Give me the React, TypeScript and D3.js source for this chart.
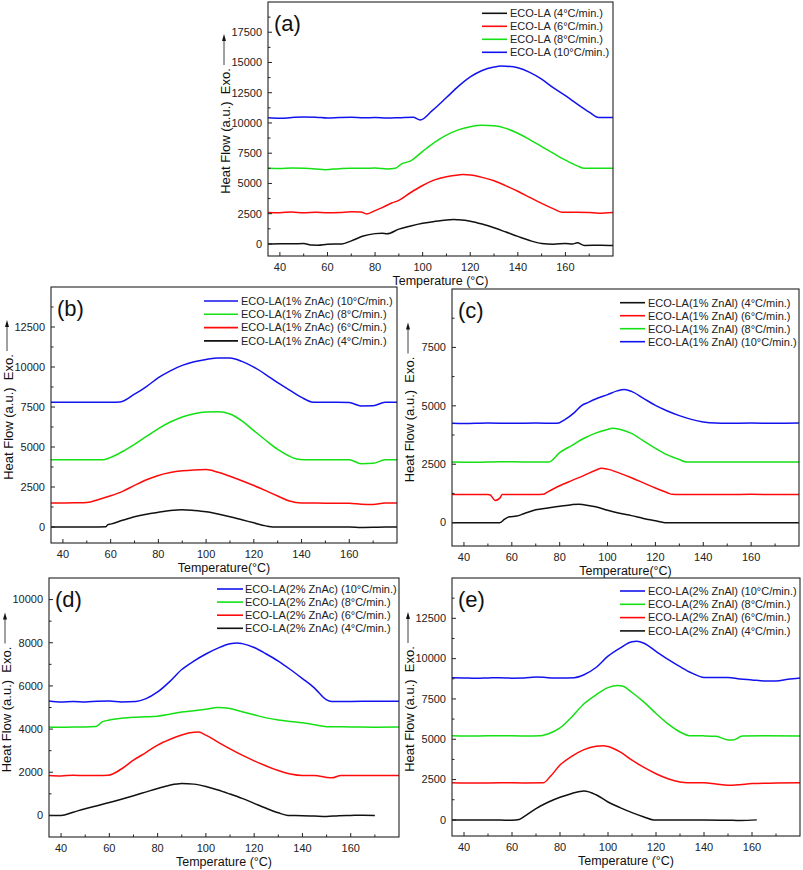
import React from "react";
import * as d3 from "d3";

type P = [number, number];

// ---------- Panel (a): ECO-LA ----------
const A4: P[] = [[35,0],[40,20],[45,10],[50,30],[53,-100],[56,-110],[60,-30],[66,0],[70,250],[75,650],[80,850],[83,880],[85,830],[90,1220],[95,1480],[100,1700],[105,1860],[110,1980],[113,2010],[115,1990],[120,1880],[125,1640],[130,1330],[135,980],[140,620],[145,280],[150,40],[155,-20],[160,40],[163,0],[165,90],[168,-130],[175,-110],[180,-140]];
const A6: P[] = [[35,2600],[40,2580],[45,2640],[50,2570],[55,2610],[60,2580],[65,2600],[70,2650],[74,2640],[76.5,2480],[80,2750],[83,3000],[87,3380],[90,3600],[95,4250],[100,4830],[105,5290],[110,5560],[115,5700],[117,5730],[120,5690],[125,5500],[130,5220],[135,4800],[140,4350],[145,3850],[150,3350],[155,2900],[158.5,2620],[165,2620],[170,2590],[174,2540],[180,2600]];
const A8: P[] = [[35,6250],[40,6230],[45,6270],[50,6250],[55,6200],[59,6140],[65,6220],[70,6260],[75,6250],[80,6270],[85,6200],[88.5,6250],[91,6600],[95,6870],[100,7650],[105,8400],[110,9000],[115,9430],[120,9680],[125,9800],[130,9760],[135,9550],[140,9150],[145,8620],[150,8050],[155,7480],[160,6930],[165,6450],[168,6250],[175,6260],[180,6250]];
const A10: P[] = [[35,10420],[40,10380],[45,10450],[50,10500],[55,10480],[60,10400],[65,10450],[70,10480],[75,10430],[80,10450],[85,10400],[90,10430],[96,10480],[99,10250],[104,11020],[110,12100],[115,13020],[120,13800],[125,14340],[130,14620],[133,14700],[135,14690],[140,14560],[145,14180],[150,13620],[155,12900],[160,12250],[165,11560],[170,10900],[174,10450],[180,10450]];

// ---------- Panel (b): 1% ZnAc ----------
const B4: P[] = [[35,0],[45,0],[55,0],[58,10],[58.8,150],[60,180],[65,420],[70,640],[75,800],[80,920],[85,1030],[90,1080],[95,1030],[100,950],[105,810],[110,640],[115,450],[120,260],[125,70],[128,0],[140,0],[150,0],[160,0],[165,-30],[170,-20],[175,0],[180,0]];
const B6: P[] = [[35,1500],[40,1500],[45,1510],[50,1530],[55,1720],[60,1950],[65,2230],[70,2600],[75,2950],[80,3220],[85,3400],[90,3510],[95,3570],[100,3590],[105,3420],[110,3170],[115,2890],[120,2590],[125,2270],[130,1940],[135,1620],[140,1500],[150,1490],[160,1480],[165,1420],[170,1400],[175,1500],[180,1500]];
const B8: P[] = [[35,4200],[45,4200],[55,4200],[57,4210],[60,4350],[65,4720],[70,5170],[75,5660],[80,6150],[85,6560],[90,6880],[95,7080],[100,7180],[105,7200],[110,7060],[115,6630],[120,6020],[125,5420],[130,4850],[135,4420],[138,4250],[141,4200],[150,4200],[160,4200],[165,3960],[170,3980],[175,4200],[180,4200]];
const B10: P[] = [[35,7800],[45,7800],[55,7800],[60,7800],[64,7820],[70,8300],[75,8780],[80,9330],[85,9760],[90,10100],[95,10330],[100,10470],[105,10560],[110,10560],[115,10350],[120,9990],[125,9530],[130,9020],[135,8560],[140,8100],[145,7800],[155,7800],[160,7780],[165,7570],[170,7580],[175,7800],[180,7800]];

// ---------- Panel (c): 1% ZnAl ----------
const C4: P[] = [[35,0],[45,0],[50,-10],[55,0],[57,150],[59,250],[62,280],[65,380],[70,550],[75,630],[80,700],[85,770],[88,790],[90,770],[95,680],[100,530],[105,400],[110,300],[115,180],[120,80],[124,0],[130,0],[140,0],[150,-10],[160,0],[170,0],[180,0]];
const C6: P[] = [[35,1200],[45,1200],[50,1200],[51,1180],[53,950],[55,1050],[56,1200],[60,1200],[70,1200],[73,1210],[75,1320],[80,1580],[85,1800],[90,2010],[95,2240],[97.5,2330],[100,2290],[105,2120],[110,1920],[115,1700],[120,1480],[125,1280],[127,1210],[130,1200],[140,1200],[150,1200],[160,1210],[170,1200],[180,1200]];
const C8: P[] = [[35,2600],[45,2590],[55,2610],[65,2600],[75.5,2600],[80,3000],[85,3300],[90,3600],[95,3830],[100,3990],[102,4040],[105,4000],[110,3820],[115,3500],[120,3180],[125,2900],[130,2700],[133,2600],[140,2600],[160,2600],[180,2600]];
const C10: P[] = [[35,4250],[40,4240],[50,4260],[60,4250],[70,4260],[79,4250],[82,4400],[86,4700],[89,5000],[92,5150],[95,5290],[100,5480],[104,5640],[107,5700],[110,5620],[115,5320],[120,5020],[125,4780],[130,4580],[135,4420],[140,4310],[145,4260],[150,4250],[160,4260],[170,4250],[180,4260]];

// ---------- Panel (d): 2% ZnAc ----------
const D4: P[] = [[35,0],[40,0],[45,150],[50,310],[55,450],[60,600],[65,750],[70,910],[75,1080],[80,1250],[85,1400],[90,1480],[95,1450],[100,1340],[105,1180],[110,990],[115,790],[120,560],[125,330],[130,120],[134,0],[140,-10],[145,-30],[150,-50],[155,-10],[160,0],[165,10],[170,0]];
const D6: P[] = [[35,1850],[40,1830],[45,1860],[50,1850],[55,1850],[59.5,1860],[65,2150],[70,2560],[75,2900],[80,3260],[85,3520],[90,3730],[95,3850],[97,3860],[100,3720],[105,3400],[110,3080],[115,2790],[120,2530],[125,2290],[130,2080],[135,1920],[140,1850],[145,1850],[150,1760],[152,1740],[156,1850],[165,1850],[180,1850]];
const D8: P[] = [[35,4100],[40,4080],[45,4100],[50,4100],[54.5,4120],[57,4330],[60,4420],[65,4500],[70,4550],[75,4570],[80,4600],[85,4690],[90,4790],[95,4850],[100,4920],[105,5000],[110,4950],[115,4800],[120,4660],[125,4520],[130,4420],[135,4350],[140,4290],[145,4200],[150,4110],[160,4100],[170,4090],[180,4100]];
const D10: P[] = [[35,5300],[40,5250],[45,5280],[50,5260],[55,5290],[60,5300],[65,5260],[71,5280],[75,5400],[80,5720],[85,6200],[90,6760],[95,7150],[100,7480],[105,7750],[110,7950],[113,7990],[115,7960],[120,7780],[125,7480],[130,7150],[135,6760],[140,6340],[145,5900],[150,5350],[152,5280],[160,5280],[170,5290],[180,5290]];

// ---------- Panel (e): 2% ZnAl ----------
const E4: P[] = [[35,0],[45,0],[55,-10],[60,-30],[63,20],[65,200],[70,700],[75,1090],[80,1400],[85,1640],[90,1790],[95,1560],[100,1110],[105,760],[110,450],[115,180],[119,0],[125,0],[140,0],[150,-20],[155,-40],[162,0]];
const E6: P[] = [[35,2300],[45,2280],[55,2300],[65,2290],[73,2300],[76,2700],[80,3400],[85,3950],[90,4360],[95,4570],[98,4600],[100,4550],[105,4220],[110,3700],[115,3250],[120,2860],[125,2550],[130,2350],[133,2300],[140,2300],[145,2220],[150,2140],[155,2180],[160,2250],[170,2280],[180,2300]];
const E8: P[] = [[35,5220],[45,5200],[55,5220],[65,5200],[72,5220],[75,5330],[80,5700],[85,6400],[90,7200],[95,7750],[100,8200],[104,8330],[106,8300],[110,7900],[115,7300],[120,6600],[125,5950],[130,5450],[134,5220],[140,5210],[145,5180],[150,4960],[152,4950],[156,5200],[165,5220],[180,5200]];
const E10: P[] = [[35,8820],[40,8800],[45,8780],[50,8800],[55,8820],[60,8790],[65,8800],[70,8860],[75,8820],[80,8800],[86,8820],[90,9000],[95,9450],[100,10150],[105,10650],[110,11050],[112,11070],[115,10950],[120,10450],[125,9950],[130,9500],[135,9100],[140,8830],[145,8830],[150,8830],[155,8730],[160,8680],[165,8620],[170,8620],[175,8720],[180,8800]];

// ---------- Labels / ticks ----------
const RATES = ["4", "6", "8", "10"];
const X_TICKS = [40, 60, 80, 100, 120, 140, 160];
const X_MINOR = [50, 70, 90, 110, 130, 150, 170];
const Y_TICKS_A = [0, 2500, 5000, 7500, 10000, 12500, 15000, 17500];
const Y_TICKS_B = [0, 2500, 5000, 7500, 10000, 12500];
const Y_TICKS_C = [0, 2500, 5000, 7500];
const Y_TICKS_D = [0, 2000, 4000, 6000, 8000, 10000];
const Y_TICKS_E = [0, 2500, 5000, 7500, 10000, 12500];

const COLORS: Record<string, string> = { "4": "#111111", "6": "#ff0a0a", "8": "#14e014", "10": "#1212ee" };
const FONT = "'Liberation Sans', Arial, Helvetica, sans-serif";

type Panel = {
  tag: string;
  box: [number, number, number, number]; // left, right, top, bottom
  yDomain: [number, number];
  yTicks: number[];
  yMinorStep: number;
  series: Record<string, P[]>;
  legendOrder: string[];
  legendText: (r: string) => string;
  legend: { x1: number; x2: number; tx: number; y0: number; dy: number };
  xTitle: string;
};

const panels: Panel[] = [
  {
    tag: "(a)", box: [268, 613, 2, 256], yDomain: [-1000, 20000], yTicks: Y_TICKS_A, yMinorStep: 1250,
    series: { "4": A4, "6": A6, "8": A8, "10": A10 }, legendOrder: ["4", "6", "8", "10"],
    legendText: (r) => `ECO-LA (${r}°C/min.)`,
    legend: { x1: 482, x2: 507, tx: 510, y0: 13.3, dy: 13 }, xTitle: "Temperature (°C)",
  },
  {
    tag: "(b)", box: [51, 397, 287, 543], yDomain: [-1000, 15000], yTicks: Y_TICKS_B, yMinorStep: 1250,
    series: { "4": B4, "6": B6, "8": B8, "10": B10 }, legendOrder: ["10", "8", "6", "4"],
    legendText: (r) => `ECO-LA(1% ZnAc) (${r}°C/min.)`,
    legend: { x1: 204, x2: 238, tx: 241, y0: 301, dy: 13.3 }, xTitle: "Temperature(°C)",
  },
  {
    tag: "(c)", box: [452, 799, 289, 546], yDomain: [-1000, 10000], yTicks: Y_TICKS_C, yMinorStep: 1250,
    series: { "4": C4, "6": C6, "8": C8, "10": C10 }, legendOrder: ["4", "6", "8", "10"],
    legendText: (r) => `ECO-LA(1% ZnAl) (${r}°C/min.)`,
    legend: { x1: 620, x2: 645, tx: 648, y0: 302.7, dy: 13 }, xTitle: "Temperature(°C)",
  },
  {
    tag: "(d)", box: [49, 399, 578, 837], yDomain: [-1000, 11000], yTicks: Y_TICKS_D, yMinorStep: 1000,
    series: { "4": D4, "6": D6, "8": D8, "10": D10 }, legendOrder: ["10", "8", "6", "4"],
    legendText: (r) => `ECO-LA(2% ZnAc) (${r}°C/min.)`,
    legend: { x1: 217, x2: 243, tx: 245, y0: 589, dy: 13.1 }, xTitle: "Temperature (°C)",
  },
  {
    tag: "(e)", box: [452, 800, 578, 836], yDomain: [-1000, 15000], yTicks: Y_TICKS_E, yMinorStep: 1250,
    series: { "4": E4, "6": E6, "8": E8, "10": E10 }, legendOrder: ["10", "8", "6", "4"],
    legendText: (r) => `ECO-LA(2% ZnAl) (${r}°C/min.)`,
    legend: { x1: 620, x2: 645, tx: 648, y0: 591, dy: 13.3 }, xTitle: "Temperature (°C)",
  },
];

function PanelView({ p, idx }: { p: Panel; idx: number }) {
  const [L, R, T, B] = p.box;
  const x = d3.scaleLinear().domain([35, 180]).range([L, R]);
  const y = d3.scaleLinear().domain(p.yDomain).range([B, T]);
  const line = d3.line<P>().x((d) => x(d[0])).y((d) => y(d[1])).curve(d3.curveMonotoneX);
  const minorY: number[] = [];
  for (let v = p.yMinorStep; v < p.yDomain[1]; v += p.yMinorStep) {
    if (!p.yTicks.includes(v)) minorY.push(v);
  }
  const cx = (L + R) / 2;
  const cy = (T + B) / 2 + 2;
  const tx = L - 43;
  const clipId = `clip-${idx}`;
  return (
    <g>
      <defs>
        <clipPath id={clipId}>
          <rect x={L} y={T} width={R - L} height={B - T} />
        </clipPath>
      </defs>
      <g clipPath={`url(#${clipId})`}>
        {RATES.map((r) => (
          <path key={r} d={line(p.series[r]) || ""} fill="none" stroke={COLORS[r]} strokeWidth={1.5} strokeLinejoin="round" />
        ))}
      </g>
      <rect x={L} y={T} width={R - L} height={B - T} fill="none" stroke="#222" strokeWidth={1.1} />
      {X_TICKS.map((t) => (
        <g key={"xt" + t}>
          <line x1={x(t)} x2={x(t)} y1={B} y2={B - 4} stroke="#222" strokeWidth={1} />
          <text x={x(t)} y={B + 14.5} textAnchor="middle" fontSize={11} fontFamily={FONT} fill="#222">{t}</text>
        </g>
      ))}
      {X_MINOR.map((t) => (
        <line key={"xm" + t} x1={x(t)} x2={x(t)} y1={B} y2={B - 2.5} stroke="#222" strokeWidth={1} />
      ))}
      {p.yTicks.map((t) => (
        <g key={"yt" + t}>
          <line x1={L} x2={L + 4} y1={y(t)} y2={y(t)} stroke="#222" strokeWidth={1} />
          <text x={L - 6} y={y(t)} dy="0.35em" textAnchor="end" fontSize={11} fontFamily={FONT} fill="#222">{t}</text>
        </g>
      ))}
      {minorY.map((t) => (
        <line key={"ym" + t} x1={L} x2={L + 2.5} y1={y(t)} y2={y(t)} stroke="#222" strokeWidth={1} />
      ))}
      <text x={cx} y={B + 28.5} textAnchor="middle" fontSize={12.5} fontFamily={FONT} fill="#111">{p.xTitle}</text>
      <text transform={`translate(${tx},${cy}) rotate(-90)`} dy="0.35em" textAnchor="middle" fontSize={13} fontFamily={FONT} fill="#111">
        {"Heat Flow (a.u.)\u00a0\u00a0Exo."}
      </text>
      <line x1={tx - 1} x2={tx - 1} y1={cy - 66} y2={cy - 93} stroke="#111" strokeWidth={0.8} />
      <path d={`M${tx - 1},${cy - 97} L${tx - 3},${cy - 90} L${tx + 1},${cy - 90} Z`} fill="#111" />
      <text x={L + 6} y={T + 29} fontSize={22} fontFamily={FONT} fill="#111">{p.tag}</text>
      {p.legendOrder.map((r, i) => {
        const yy = p.legend.y0 + i * p.legend.dy;
        return (
          <g key={"lg" + r}>
            <line x1={p.legend.x1} x2={p.legend.x2} y1={yy} y2={yy} stroke={COLORS[r]} strokeWidth={1.6} />
            <text x={p.legend.tx} y={yy} dy="0.35em" fontSize={11} fontFamily={FONT} fill="#222">{p.legendText(r)}</text>
          </g>
        );
      })}
    </g>
  );
}

export default function App() {
  return (
    <div style={{ position: "absolute", left: 0, top: 0 }}>
      <svg width={803} height={870} viewBox="0 0 803 870" style={{ display: "block", background: "#fff" }}>
        <rect x={0} y={0} width={803} height={870} fill="#fff" />
        {panels.map((p, i) => (
          <PanelView key={p.tag} p={p} idx={i} />
        ))}
      </svg>
    </div>
  );
}
